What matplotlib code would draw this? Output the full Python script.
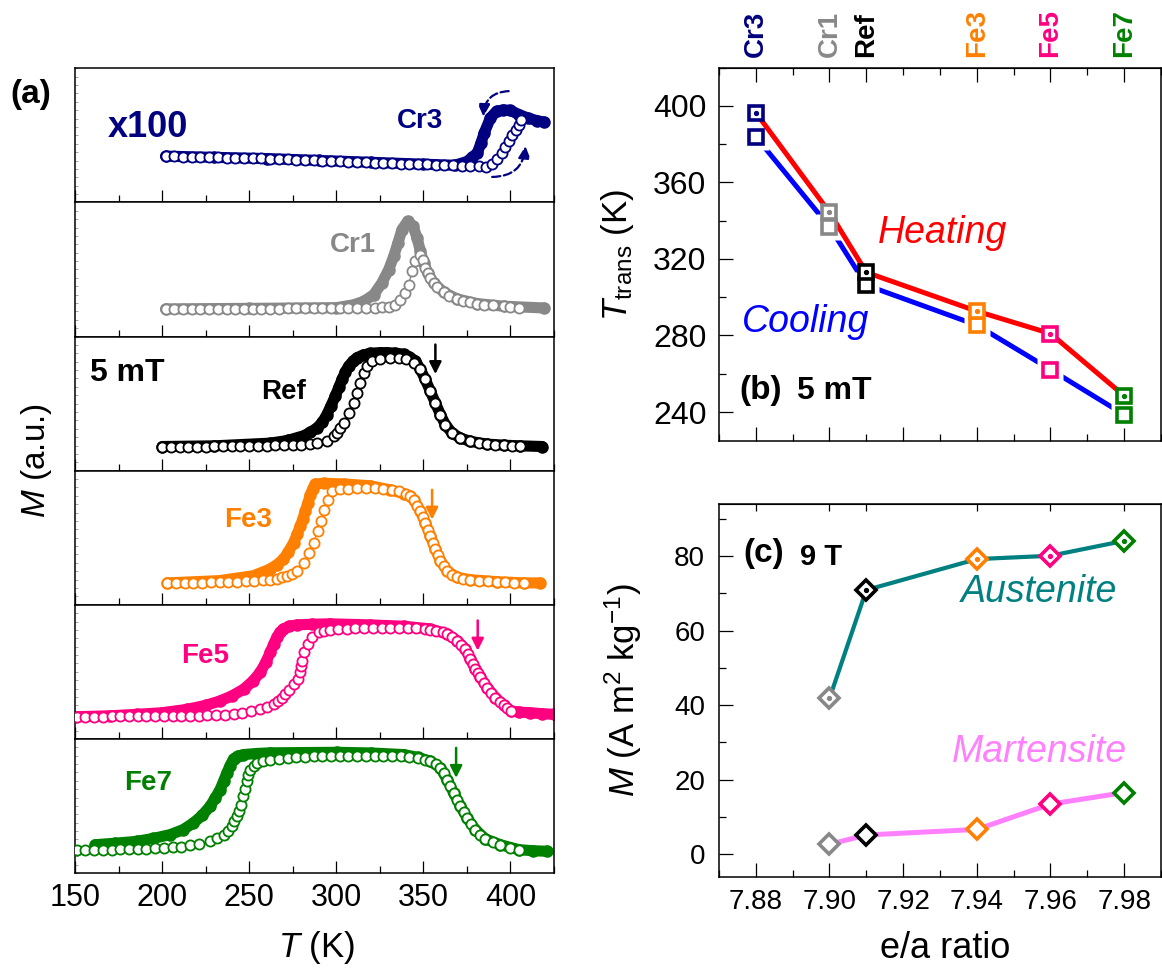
import numpy as np
import matplotlib
matplotlib.use("Agg")
import matplotlib.pyplot as plt
from matplotlib.ticker import MultipleLocator, NullLocator

plt.rcParams['font.family'] = ['Liberation Sans', 'DejaVu Sans']
plt.rcParams['mathtext.fontset'] = 'custom'
plt.rcParams['mathtext.rm'] = 'Liberation Sans'
plt.rcParams['mathtext.it'] = 'Liberation Sans:italic'
plt.rcParams['mathtext.bf'] = 'Liberation Sans:bold'

# -------------------- DATA --------------------
sample_names = ['Cr3', 'Cr1', 'Ref', 'Fe3', 'Fe5', 'Fe7']
sample_colors = ['#000080', '#888888', '#000000', '#FF8000', '#FF0080', '#008000']

# (b) transition temperatures at 5 mT
ea_ratio = [7.88, 7.90, 7.91, 7.94, 7.96, 7.98]
t_heating = [396.5, 344.4, 313.0, 292.7, 281.0, 248.5]
t_cooling = [383.9, 336.8, 306.3, 285.4, 262.2, 238.6]

# (c) magnetization at 9 T
ea_9t = [7.90, 7.91, 7.94, 7.96, 7.98]
colors_9t = ['#888888', '#000000', '#FF8000', '#FF0080', '#008000']
m_austenite = [41.8, 70.9, 79.2, 80.1, 84.1]
m_martensite = [2.6, 5.1, 6.6, 13.4, 16.5]

# (a) M(T) curves, (T [K], M [a.u., panel fraction]); cool = filled, heat = open
cr3_cool = [(202, .345), (230, .336), (260, .327), (290, .313), (320, .299), (350, .285),
            (368, .277), (375, .305), (378, .335), (381, .37), (383, .44), (385, .52),
            (388.5, .63), (392, .68), (396, .69), (400, .686), (405, .654), (410, .63),
            (415, .61), (419, .60)]
cr3_heat = [(202, .345), (207, .343), (212, .342), (217, .340), (222, .339), (227, .337),
            (232, .335), (237, .334), (242, .332), (247, .331), (252, .329), (257, .328),
            (262, .326), (267, .324), (272, .321), (277, .319), (282, .317), (287, .314),
            (292, .312), (297, .310), (302, .307), (307, .305), (312, .302), (317, .300),
            (322, .297), (327, .295), (332, .292), (337, .290), (342, .288), (347, .286),
            (352, .284), (357, .281), (362, .279), (367, .277), (372, .274), (377, .271),
            (382, .268), (386, .262), (389.5, .284), (392.3, .321), (395.2, .370),
            (397.1, .414), (399.1, .456), (401, .506), (402.9, .543), (404.8, .580),
            (406.1, .617)]

cr1_cool = [(202, .206), (250, .210), (300, .215), (310, .237), (315.7, .262), (321.5, .312),
            (326.2, .40), (330.1, .499), (333, .599), (335.4, .698), (337.7, .797),
            (341, .86), (344.1, .822), (346.4, .735), (348.3, .636), (350.2, .549),
            (352.5, .474), (355.9, .40), (361.7, .33), (369.4, .28), (380.8, .246),
            (396.2, .226), (419.2, .213)]
cr1_heat = [(202, .206), (207, .206), (212, .206), (217, .206), (222, .207), (227, .207),
            (232, .207), (237, .207), (242, .208), (247, .208), (252, .208), (257, .209),
            (262, .209), (267, .209), (272, .210), (277, .210), (282, .210), (287, .211),
            (292, .211), (297, .211), (302, .212), (307, .212), (312, .213), (317, .213),
            (322, .214), (326, .217), (330, .222), (334, .238), (336.8, .275), (339.7, .325),
            (341.6, .387), (343.5, .487), (345.4, .561), (347.9, .611), (349.8, .574),
            (351.2, .512), (352.5, .474), (354, .435), (355.9, .40), (358, .37),
            (361.7, .33), (365, .305), (369.4, .28), (373, .265), (377, .255),
            (380.8, .246), (385, .238), (390, .232), (396.2, .226), (400, .22),
            (404.8, .213)]

ref_cool = [(200, .18), (230, .185), (262, .205), (272, .225), (281.2, .26), (285, .285),
            (288.9, .318), (292, .36), (294.6, .418), (297, .485), (299.4, .555),
            (301.4, .62), (303.3, .68), (305.2, .735), (307.1, .78), (309.5, .815),
            (311.9, .843), (315.5, .862), (319.5, .875), (325, .88), (329.1, .88),
            (334, .876), (338.7, .868), (342, .848), (345.4, .818), (348.3, .755),
            (351.1, .68), (354, .593), (356.9, .505), (359.8, .418), (362.6, .343),
            (366.5, .28), (371.3, .243), (377, .218), (386.6, .198), (396.2, .19),
            (405.7, .185), (418.2, .18)]
ref_heat = [(200, .175), (205, .176), (210, .177), (215, .178), (220, .179), (225, .18),
            (230, .181), (235, .182), (240, .183), (245, .184), (250, .185), (255, .186),
            (260, .187), (265, .188), (270, .19), (275, .191), (280, .193), (285, .198),
            (289, .205), (294.6, .223), (298.5, .255), (300.4, .28), (302.3, .318),
            (304.2, .355), (307.1, .43), (310, .505), (311.9, .58), (313.8, .655),
            (315.7, .73), (317.6, .78), (320.5, .818), (325.3, .835), (331, .843),
            (336, .84), (340, .832), (344.4, .805), (348.3, .755), (351.1, .68),
            (354, .593), (356.9, .505), (359.8, .418), (362.6, .343), (366.5, .28),
            (371.3, .243), (377, .218), (382, .206), (386.6, .198), (391, .194),
            (396.2, .19), (401, .187), (405.7, .185)]

fe3_cool = [(203, .163), (233, .18), (252.5, .217), (262, .266), (266, .30), (269.7, .34),
            (272.5, .395), (275.5, .463), (277.5, .525), (279.3, .586), (280.8, .64),
            (282.2, .697), (283.7, .76), (285.1, .82), (286.5, .865), (287.9, .90),
            (292.7, .906), (304.2, .901), (319.5, .887), (331, .857), (338.7, .828),
            (342.5, .81), (344.4, .783), (348.3, .697), (351.1, .611), (354, .512),
            (356.9, .414), (359.8, .328), (363.6, .254), (369.4, .204), (377, .187),
            (392.3, .172), (407.7, .163), (417.2, .163)]
fe3_heat = [(203, .163), (208, .163), (213, .164), (218, .165), (223, .166), (228, .167),
            (233, .168), (238, .17), (243, .172), (248, .175), (253, .178), (258, .182),
            (262, .187), (266, .195), (269, .205), (271.7, .217), (274.5, .233),
            (277.4, .254), (281.2, .315), (284.1, .389), (287, .463), (289.3, .549),
            (291.2, .623), (293.1, .709), (295, .783), (297.5, .845), (302.3, .862),
            (307, .866), (312, .87), (317, .873), (322, .874), (327, .866), (332, .856),
            (336, .845), (340, .828), (342.5, .81), (344.4, .783), (346.4, .74),
            (348.3, .697), (349.7, .655), (351.1, .611), (352.5, .56), (354, .512),
            (355.5, .463), (356.9, .414), (358.3, .37), (359.8, .328), (361.7, .29),
            (363.6, .254), (366.5, .225), (369.4, .204), (373, .193), (377, .187),
            (382, .18), (387, .176), (392.3, .172), (397, .169), (402, .166),
            (407.7, .163)]

fe5_cool = [(150, .165), (170, .172), (185.4, .183), (200, .195), (214.2, .22), (225, .25),
            (233.3, .283), (240, .32), (246.8, .37), (252, .43), (256.3, .495),
            (259.5, .57), (262.1, .645), (264, .705), (265.9, .758), (267.7, .795),
            (269.7, .82), (273, .84), (277.4, .85), (286, .855), (296.5, .858),
            (319.5, .85), (338.7, .84), (354, .82), (363.6, .783), (369.4, .733),
            (374.1, .67), (377, .595), (379.9, .52), (382.8, .458), (386.6, .383),
            (391.4, .308), (396.2, .25), (400.4, .208), (405, .20), (411.5, .195),
            (418, .188), (424.9, .183)]
fe5_heat = [(151, .165), (156, .165), (161, .166), (166, .166), (171, .167), (176, .167),
            (181, .168), (186, .168), (191, .169), (196, .17), (201, .17), (206, .171),
            (211, .172), (216, .173), (221, .174), (226, .176), (231, .178), (236, .181),
            (241, .186), (246, .195), (251, .205), (256.3, .22), (260, .236), (264, .258),
            (266.5, .282), (268.8, .308), (270.7, .335), (272.6, .365), (275.5, .408),
            (278, .45), (278.9, .50), (279.6, .54), (280.3, .583), (281.2, .645),
            (283.5, .708), (286, .758), (289.8, .795), (293, .808), (296.5, .815),
            (301, .82), (306, .823), (311, .826), (316, .828), (321, .83), (326, .83),
            (331, .83), (336, .83), (341, .829), (346, .826), (351, .82), (354, .815),
            (357.5, .808), (361, .797), (363.6, .783), (366.5, .76), (369.4, .733),
            (371.8, .703), (374.1, .67), (375.6, .633), (377, .595), (378.5, .558),
            (379.9, .52), (381.4, .49), (382.8, .458), (384.7, .42), (386.6, .383),
            (389, .345), (391.4, .308), (393.8, .277), (396.2, .25), (398.3, .228),
            (400.4, .208)]

fe7_cool = [(161.5, .211), (173, .222), (185.4, .236), (195, .258), (204.6, .286),
            (212, .323), (218, .373), (223, .43), (227.6, .498), (230.5, .56),
            (233.3, .622), (235.3, .685), (237.2, .746), (239, .80), (241, .851),
            (243.5, .872), (246.7, .883), (254, .891), (262.1, .896), (280, .898),
            (300.4, .90), (320, .895), (338.7, .883), (347, .862), (354, .833),
            (359.8, .784), (363.6, .697), (367.4, .597), (371.3, .498), (375.1, .41),
            (379.9, .323), (385.6, .254), (394.2, .211), (404.8, .174), (413, .166),
            (421.1, .162)]
fe7_heat = [(151, .169), (156, .17), (161, .171), (166, .173), (171, .174), (176, .176),
            (181, .177), (186, .179), (191, .181), (196, .184), (201, .187), (206, .191),
            (211, .197), (216, .206), (221, .218), (227.6, .236), (231.5, .258),
            (235.3, .286), (238, .315), (240, .348), (241.5, .385), (242.9, .423),
            (244, .465), (245.2, .51), (246.7, .572), (247.7, .628), (248.7, .684),
            (249.6, .728), (250.6, .771), (252.5, .80), (254.4, .821), (258, .836),
            (262.1, .846), (267, .853), (272, .858), (277, .862), (282, .866), (287, .869),
            (292, .871), (297, .873), (302, .875), (307, .876), (312, .876), (317, .876),
            (322, .875), (327, .874), (332, .873), (337, .871), (342, .866), (347, .857),
            (351, .845), (354, .833), (357, .812), (359.8, .784), (361.7, .742),
            (363.6, .697), (365.5, .647), (367.4, .597), (369.4, .548), (371.3, .498),
            (373.2, .454), (375.1, .41), (377.5, .366), (379.9, .323), (382.8, .287),
            (385.6, .254), (390, .228), (394.2, .211), (399.5, .19), (404.8, .174)]

curves = [cr3_cool, cr3_heat, cr1_cool, cr1_heat, ref_cool, ref_heat,
          fe3_cool, fe3_heat, fe5_cool, fe5_heat, fe7_cool, fe7_heat]

# -------------------- FIGURE --------------------
W, H = 1162, 969
fig = plt.figure(figsize=(W / 100, H / 100), dpi=100)


def fx(px):
    return px / W


def fy(py):
    return 1 - py / H


# ---- panel (a) ----
a_top, a_bot = 68.3, 873.0
a_h = (a_bot - a_top) / 6
for i, name in enumerate(sample_names):
    col = sample_colors[i]
    ax = fig.add_axes([fx(75), fy(a_top + (i + 1) * a_h), fx(554) - fx(75), a_h / H])
    tc, mc = np.array(curves[2 * i]).T
    th, mh = np.array(curves[2 * i + 1]).T
    ax.plot(tc, mc, '-', color=col, lw=8, solid_capstyle='round',
            solid_joinstyle='round', zorder=2)
    ax.plot(tc, mc, 'o', color=col, ms=8, zorder=2)
    ax.plot(th, mh, '-o', color=col, lw=1, ms=7.3, mfc='white', mec=col, mew=1.3, zorder=3)
    ax.set_xlim(150, 425)
    ax.set_ylim(0, 1)
    ax.xaxis.set_major_locator(MultipleLocator(50))
    ax.xaxis.set_minor_locator(MultipleLocator(25))
    ax.yaxis.set_major_locator(NullLocator())
    ax.yaxis.set_minor_locator(MultipleLocator(1 / 16))
    ax.tick_params(axis='x', which='major', direction='in', length=9, width=0.9,
                   labelsize=22, pad=7, labelbottom=(i == 5))
    ax.tick_params(axis='x', which='minor', direction='in', length=5, width=0.9)
    ax.tick_params(axis='y', which='minor', direction='in', length=2, width=0.5, color='0.5')
    for sp in ax.spines.values():
        sp.set_linewidth(1.1)

    if name == 'Cr3':
        ax.text(192, .555, 'x100', color=col, fontsize=26, fontweight='bold',
                ha='center', va='center')
        ax.text(348, .604, 'Cr3', color=col, fontsize=20, fontweight='bold',
                ha='center', va='center')
        ax.annotate('', xy=(384.5, .64), xytext=(399, .83),
                    arrowprops=dict(arrowstyle='-|>', color=col, lw=1.6, ls='--',
                                    mutation_scale=18, shrinkA=0, shrinkB=0,
                                    connectionstyle='arc3,rad=0.45'))
        ax.annotate('', xy=(408.6, .42), xytext=(389.5, .19),
                    arrowprops=dict(arrowstyle='-|>', color=col, lw=1.6, ls='--',
                                    mutation_scale=18, shrinkA=0, shrinkB=0,
                                    connectionstyle='arc3,rad=0.45'))
    elif name == 'Cr1':
        ax.text(309.6, .686, 'Cr1', color=col, fontsize=20, fontweight='bold',
                ha='center', va='center')
    elif name == 'Ref':
        ax.text(158.6, .73, '5 mT', color='black', fontsize=23, fontweight='bold',
                ha='left', va='center')
        ax.text(270, .59, 'Ref', color=col, fontsize=20, fontweight='bold',
                ha='center', va='center')
        ax.annotate('', xy=(356.9, .72), xytext=(356.9, .94),
                    arrowprops=dict(arrowstyle='-|>', color=col, lw=1.8,
                                    mutation_scale=18, shrinkA=0, shrinkB=0))
    elif name == 'Fe3':
        ax.text(249.6, .635, 'Fe3', color=col, fontsize=20, fontweight='bold',
                ha='center', va='center')
        ax.annotate('', xy=(355, .635), xytext=(355, .857),
                    arrowprops=dict(arrowstyle='-|>', color=col, lw=1.8,
                                    mutation_scale=18, shrinkA=0, shrinkB=0))
    elif name == 'Fe5':
        ax.text(224.7, .62, 'Fe5', color=col, fontsize=20, fontweight='bold',
                ha='center', va='center')
        ax.annotate('', xy=(381.2, .658), xytext=(381.2, .883),
                    arrowprops=dict(arrowstyle='-|>', color=col, lw=1.8,
                                    mutation_scale=18, shrinkA=0, shrinkB=0))
    elif name == 'Fe7':
        ax.text(192.1, .672, 'Fe7', color=col, fontsize=20, fontweight='bold',
                ha='center', va='center')
        ax.annotate('', xy=(368.8, .709), xytext=(368.8, .933),
                    arrowprops=dict(arrowstyle='-|>', color=col, lw=1.8,
                                    mutation_scale=18, shrinkA=0, shrinkB=0))

fig.text(fx(31), fy(95), '(a)', fontsize=24, fontweight='bold', ha='center', va='center')
fig.text(fx(37), fy(461), r'$M$ (a.u.)', fontsize=24, rotation=90, ha='center', va='center')
fig.text(fx(317), fy(947), r'$T$ (K)', fontsize=25, ha='center', va='center')

# ---- panel (b) ----
axb = fig.add_axes([fx(719), fy(440.7), fx(1161) - fx(719), (440.7 - 67.7) / H])
axb.plot(ea_ratio, t_cooling, '-', color='#0000FF', lw=3.6, zorder=2)
axb.plot(ea_ratio, t_cooling, 's', ms=19, mfc='white', mec='none', zorder=3)
axb.plot(ea_ratio, t_heating, '-', color='#FF0000', lw=3.6, zorder=4)
for x, yh, yc, col in zip(ea_ratio, t_heating, t_cooling, sample_colors):
    axb.plot(x, yc, 's', ms=10.5, mfc='white', mec=col, mew=2.6, zorder=5)
    axb.plot(x, yh, 's', ms=10.5, mfc='white', mec=col, mew=2.6, zorder=5)
    axb.plot(x, yh, 'o', ms=2.8, color=col, zorder=6)
axb.set_xlim(7.87, 7.99)
axb.set_ylim(225, 420)
axb.set_xticks(np.arange(7.88, 7.985, 0.02))
axb.xaxis.set_minor_locator(MultipleLocator(0.01))
axb.set_yticks([240, 280, 320, 360, 400])
axb.yaxis.set_minor_locator(MultipleLocator(20))
axb.tick_params(axis='x', which='both', direction='in', labelbottom=False, top=False)
axb.tick_params(axis='x', which='major', length=10, width=0.9)
axb.tick_params(axis='x', which='minor', length=5, width=0.9)
axb.tick_params(axis='y', which='major', direction='in', length=10, width=0.9,
                labelsize=23, pad=9)
axb.tick_params(axis='y', which='minor', direction='in', length=5, width=0.9)
for sp in axb.spines.values():
    sp.set_linewidth(1.1)

topb = axb.secondary_xaxis('top')
topb.set_xticks(ea_ratio, labels=sample_names)
topb.xaxis.set_minor_locator(MultipleLocator(0.01))
topb.tick_params(axis='x', which='major', direction='in', length=10, width=0.9,
                 labelsize=20, pad=8, labelrotation=90)
topb.tick_params(axis='x', which='minor', direction='in', length=5, width=0.9)
for lab, col in zip(topb.get_xticklabels(), sample_colors):
    lab.set_color(col)
    lab.set_fontweight('bold')

axb.text(7.9306, 333.5, 'Heating', color='#FF0000', fontsize=27, style='italic',
         ha='center', va='center')
axb.text(7.8935, 286.9, 'Cooling', color='#0000FF', fontsize=27, style='italic',
         ha='center', va='center')
axb.text(7.8754, 251.3, '(b)', fontsize=24, fontweight='bold', ha='left', va='center')
axb.text(7.8911, 251.0, '5 mT', fontsize=23, fontweight='bold', ha='left', va='center')
fig.text(fx(617), fy(255), r'$T_{\rm trans}$ (K)', fontsize=25, rotation=90,
         ha='center', va='center')

# ---- panel (c) ----
axc = fig.add_axes([fx(719), fy(876.7), fx(1161) - fx(719), (876.7 - 504) / H])
axc.plot(ea_9t, m_austenite, '-', color='#008080', lw=3.0, zorder=2)
axc.plot(ea_9t, m_martensite, '-', color='#FF80FF', lw=3.6, zorder=2)
for x, ya, ym, col in zip(ea_9t, m_austenite, m_martensite, colors_9t):
    axc.plot(x, ya, 'D', ms=10, mfc='white', mec=col, mew=2.6, zorder=5)
    axc.plot(x, ya, 'o', ms=2.8, color=col, zorder=6)
    axc.plot(x, ym, 'D', ms=10, mfc='white', mec=col, mew=2.6, zorder=5)
axc.set_xlim(7.87, 7.99)
axc.set_ylim(-6.1, 94)
axc.set_xticks(np.arange(7.88, 7.985, 0.02))
axc.set_xticklabels(['%.2f' % v for v in np.arange(7.88, 7.985, 0.02)])
axc.xaxis.set_minor_locator(MultipleLocator(0.01))
axc.set_yticks([0, 20, 40, 60, 80])
axc.yaxis.set_minor_locator(MultipleLocator(10))
axc.tick_params(axis='x', which='major', direction='in', length=10, width=0.9,
                labelsize=20, pad=9, top=False)
axc.tick_params(axis='x', which='minor', direction='in', length=5, width=0.9, top=False)
axc.tick_params(axis='y', which='major', direction='in', length=10, width=0.9,
                labelsize=20, pad=10)
axc.tick_params(axis='y', which='minor', direction='in', length=5, width=0.9)
for sp in axc.spines.values():
    sp.set_linewidth(1.1)

topc = axc.secondary_xaxis('top')
topc.set_xticks(ea_ratio, labels=[''] * len(ea_ratio))
topc.tick_params(axis='x', which='major', direction='in', length=5, width=0.9)

axc.text(7.8765, 80.8, '(c)', fontsize=24, fontweight='bold', ha='left', va='center')
axc.text(7.8919, 79.7, '9 T', fontsize=21, fontweight='bold', ha='left', va='center')
axc.text(7.9569, 70.3, 'Austenite', color='#008080', fontsize=27, style='italic',
         ha='center', va='center')
axc.text(7.9571, 27.4, 'Martensite', color='#FF80FF', fontsize=27, style='italic',
         ha='center', va='center')
fig.text(fx(623), fy(690), r'$M$ (A m$^2$ kg$^{-1}$)', fontsize=25, rotation=90,
         ha='center', va='center')
fig.text(fx(945), fy(948), 'e/a ratio', fontsize=26, ha='center', va='center')

fig.savefig('out.png', dpi=100)
